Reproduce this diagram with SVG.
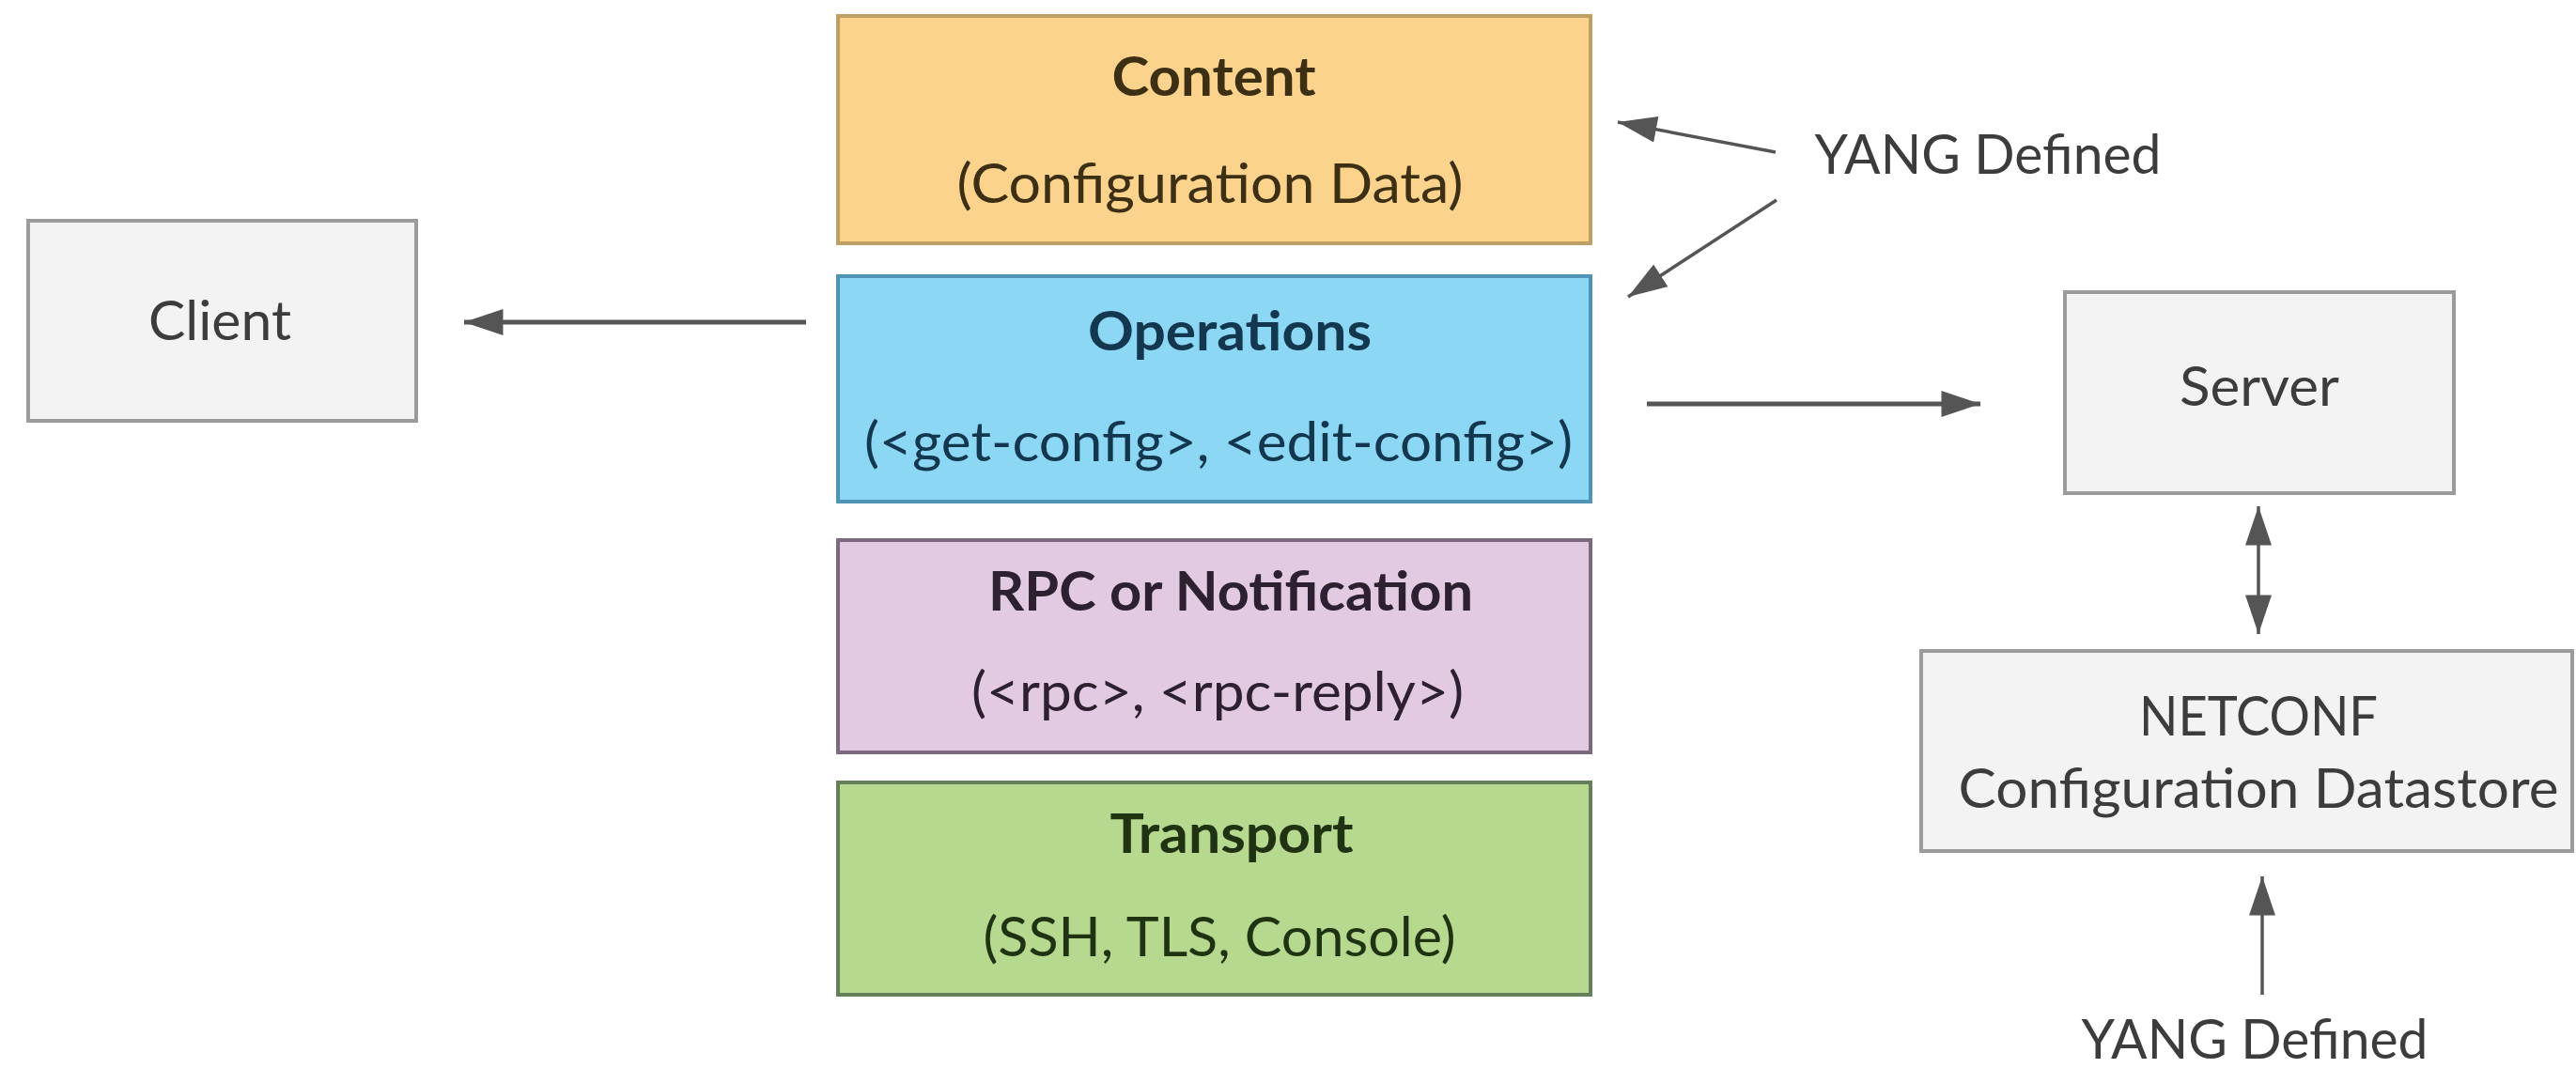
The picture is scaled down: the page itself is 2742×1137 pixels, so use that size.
<svg xmlns="http://www.w3.org/2000/svg" width="2742" height="1137" viewBox="0 0 2742 1137">
<style>
.t{font-family:Lato,"Liberation Sans",sans-serif;font-size:58px;text-anchor:middle}
.b{font-weight:bold}
.g{fill:#3c3c3c}
.gray rect{fill:#f3f3f3;stroke:#9b9b9b;stroke-width:4}
.conn line{stroke:#555;stroke-width:5;fill:none}
.conn .thin{stroke-width:3.5}
</style>
<defs>
<marker id="ah" markerUnits="userSpaceOnUse" markerWidth="42" markerHeight="28" viewBox="0 0 40 27" refX="40" refY="13.5" orient="auto-start-reverse">
<path d="M0,0 L40,13.5 L0,27 z" fill="#555"/>
</marker>
</defs>
<rect width="2742" height="1137" fill="#fff"/>
<g id="content">
<rect x="892" y="17" width="801" height="242" fill="#fbd38d" stroke="#bfa064" stroke-width="4"/>
<text class="t b" x="1292" y="102" fill="#3d2f14" textLength="217" lengthAdjust="spacingAndGlyphs">Content</text>
<text class="t" x="1288" y="216" fill="#3d2f14" textLength="539" lengthAdjust="spacingAndGlyphs">(Configuration Data)</text>
</g>
<g id="operations">
<rect x="892" y="294" width="801" height="240" fill="#8cd7f3" stroke="#4f94b4" stroke-width="4"/>
<text class="t b" x="1309" y="373" fill="#12374f" textLength="302" lengthAdjust="spacingAndGlyphs">Operations</text>
<text class="t" x="1297" y="491" fill="#12374f" textLength="754" lengthAdjust="spacingAndGlyphs">(&lt;get-config&gt;, &lt;edit-config&gt;)</text>
</g>
<g id="rpc">
<rect x="892" y="575" width="801" height="226" fill="#e2cae3" stroke="#7a6a7c" stroke-width="4"/>
<text class="t b" x="1310" y="650" fill="#2d2030" textLength="516" lengthAdjust="spacingAndGlyphs">RPC or Notification</text>
<text class="t" x="1296" y="757" fill="#2d2030" textLength="524" lengthAdjust="spacingAndGlyphs">(&lt;rpc&gt;, &lt;rpc-reply&gt;)</text>
</g>
<g id="transport">
<rect x="892" y="833" width="801" height="226" fill="#b6d98f" stroke="#64805a" stroke-width="4"/>
<text class="t b" x="1311" y="908" fill="#1f3313" textLength="259" lengthAdjust="spacingAndGlyphs">Transport</text>
<text class="t" x="1298" y="1018" fill="#1f3313" textLength="503" lengthAdjust="spacingAndGlyphs">(SSH, TLS, Console)</text>
</g>
<g id="client" class="gray">
<rect x="30" y="235" width="413" height="213"/>
<text class="t g" x="234" y="362" textLength="152" lengthAdjust="spacingAndGlyphs">Client</text>
</g>
<g id="server" class="gray">
<rect x="2198" y="311" width="414" height="214"/>
<text class="t g" x="2405" y="432" textLength="170" lengthAdjust="spacingAndGlyphs">Server</text>
</g>
<g id="datastore" class="gray">
<rect x="2045" y="693" width="693" height="213"/>
<text class="t g" x="2404" y="783" textLength="254" lengthAdjust="spacingAndGlyphs">NETCONF</text>
<text class="t g" x="2404" y="860" textLength="639" lengthAdjust="spacingAndGlyphs">Configuration Datastore</text>
</g>
<g id="yang-top">
<text class="t g" x="2116" y="185" textLength="369" lengthAdjust="spacingAndGlyphs">YANG Defined</text>
</g>
<g id="yang-bottom">
<text class="t g" x="2400" y="1127" textLength="369" lengthAdjust="spacingAndGlyphs">YANG Defined</text>
</g>
<g id="connectors" class="conn">
<line x1="858" y1="343" x2="494" y2="343" marker-end="url(#ah)"/>
<line x1="1753" y1="430" x2="2108" y2="430" marker-end="url(#ah)"/>
<line class="thin" x1="1890" y1="162" x2="1722" y2="130" marker-end="url(#ah)"/>
<line class="thin" x1="1891" y1="213" x2="1733" y2="316" marker-end="url(#ah)"/>
<line class="thin" x1="2404" y1="539" x2="2404" y2="675" marker-start="url(#ah)" marker-end="url(#ah)"/>
<line class="thin" x1="2408" y1="1059" x2="2408" y2="933" marker-end="url(#ah)"/>
</g>
</svg>
